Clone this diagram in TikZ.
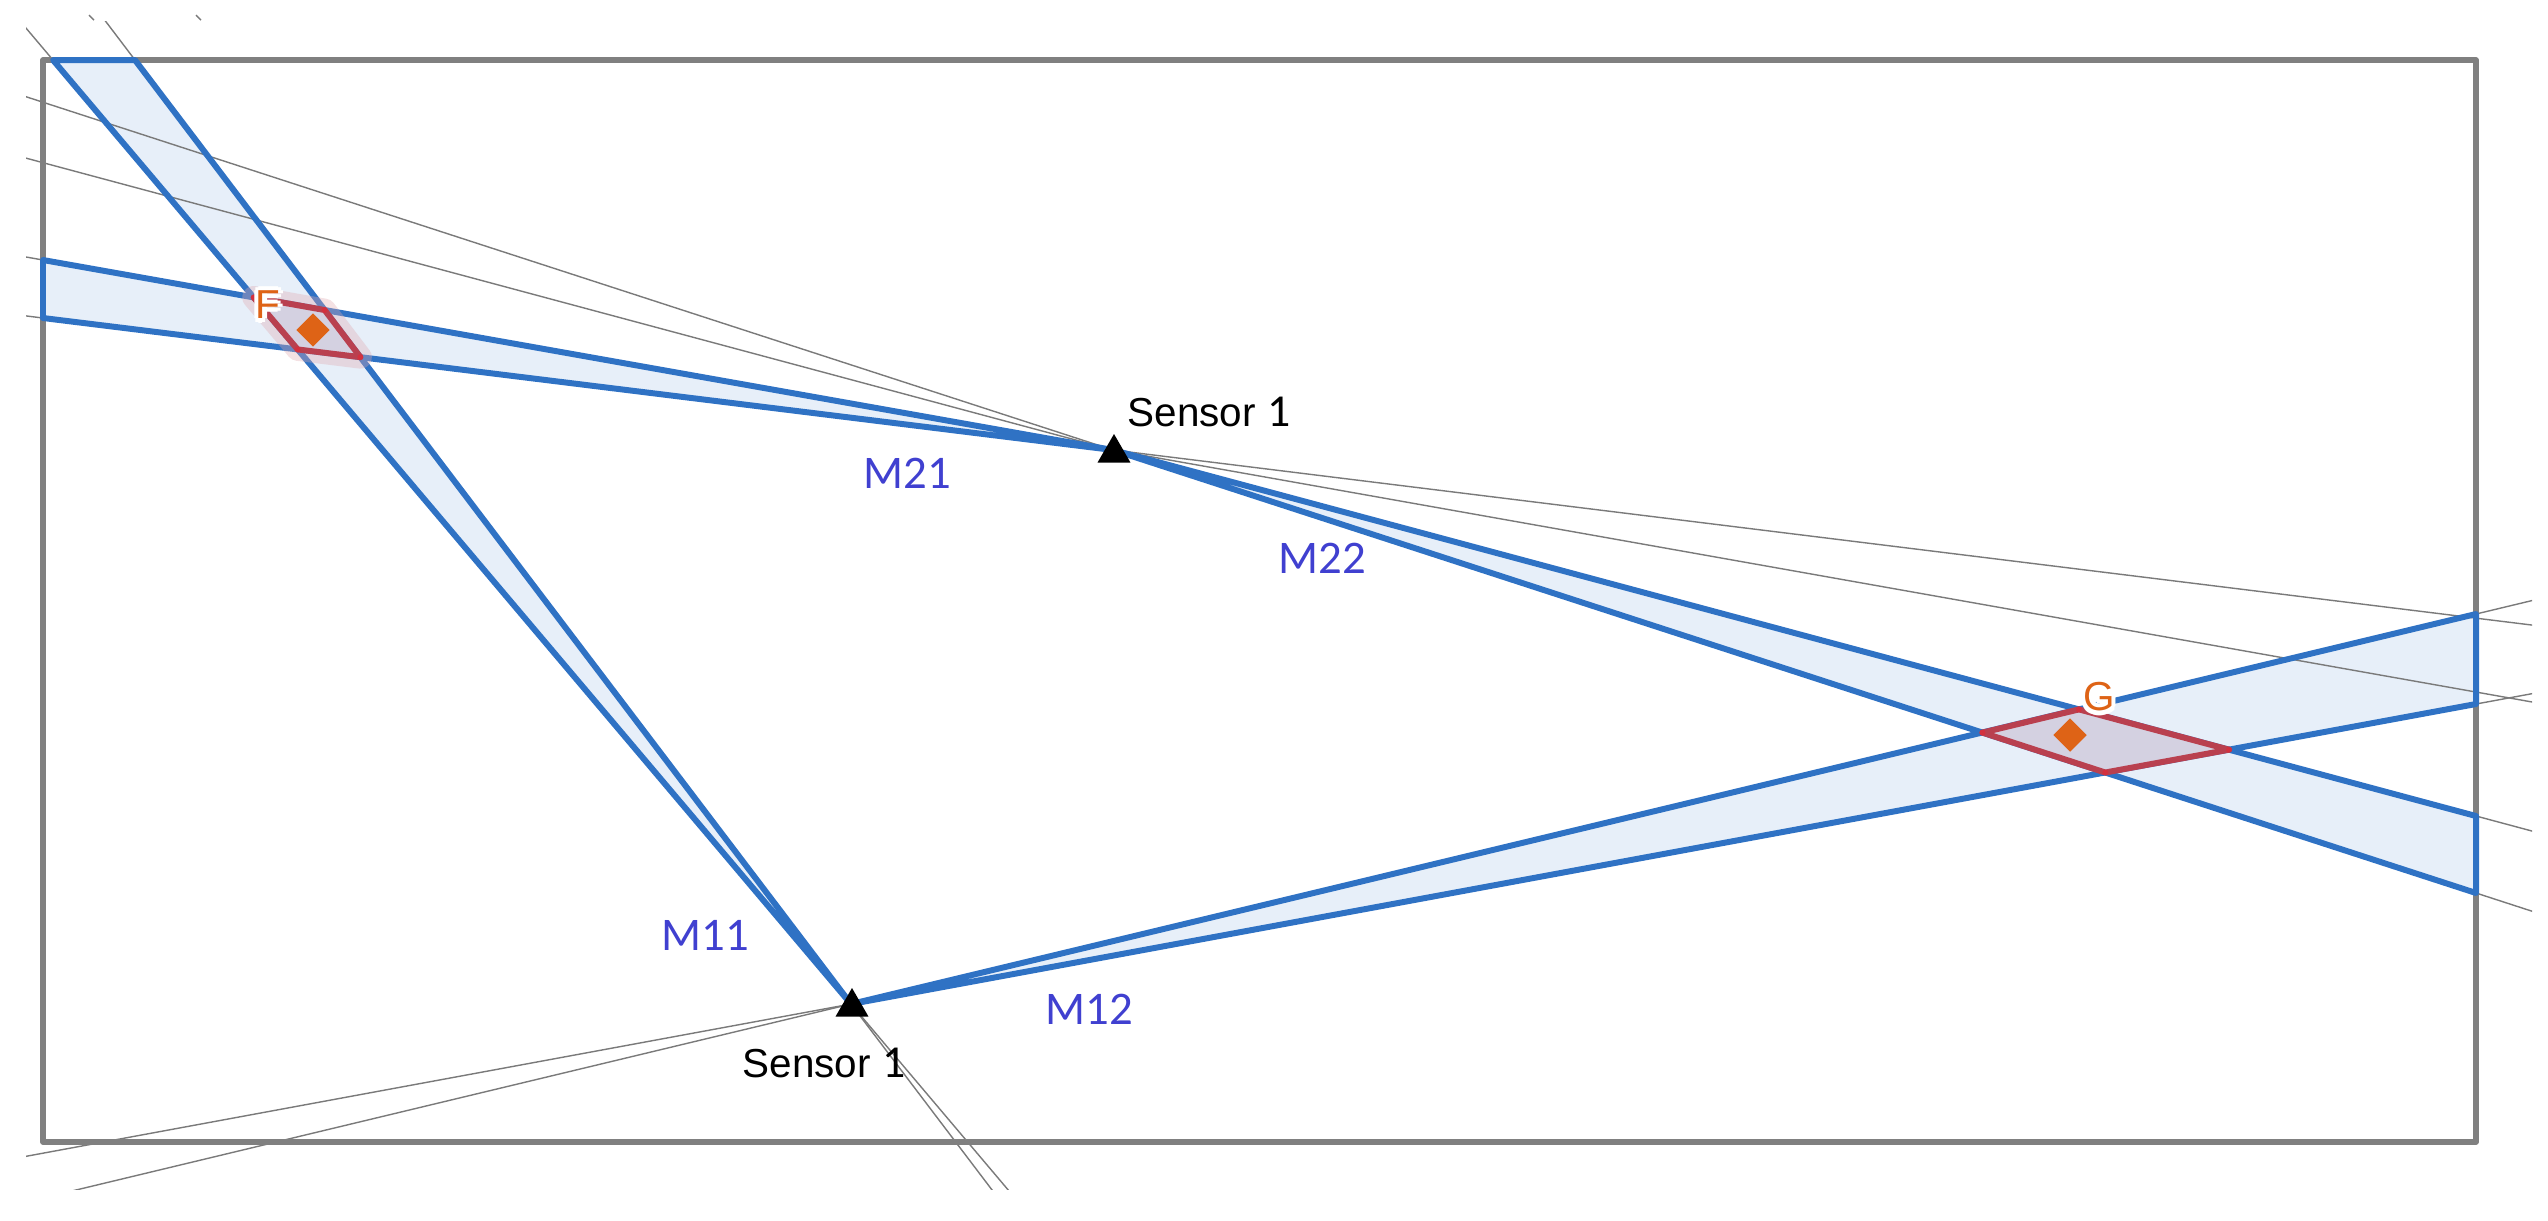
\documentclass[tikz,border=0pt]{standalone}
\usepackage{fontspec}
\setmainfont{Liberation Sans}
\newfontfamily\carl{Carlito}
\usetikzlibrary{calc,shapes.geometric}
\definecolor{frameg}{HTML}{808080}
\definecolor{bandline}{HTML}{2F72C4}
\definecolor{bandfillc}{HTML}{E7EFF9}
\definecolor{guideg}{HTML}{7A7A7A}
\definecolor{regline}{HTML}{B9404F}
\definecolor{regfill}{HTML}{D4D1E1}
\definecolor{regdot}{HTML}{D3303E}
\definecolor{orangec}{HTML}{DE6316}
\definecolor{mlabel}{HTML}{4040D0}
\newcommand\halotxt[1]{%
 \rlap{\color{white}\kern-1.3pt#1}%
 \rlap{\color{white}\kern1.3pt#1}%
 \rlap{\color{white}\raisebox{1.3pt}{#1}}%
 \rlap{\color{white}\raisebox{-1.3pt}{#1}}%
 \rlap{\color{white}\kern-0.92pt\raisebox{0.92pt}{#1}}%
 \rlap{\color{white}\kern0.92pt\raisebox{0.92pt}{#1}}%
 \rlap{\color{white}\kern-0.92pt\raisebox{-0.92pt}{#1}}%
 \rlap{\color{white}\kern0.92pt\raisebox{-0.92pt}{#1}}%
 #1}
\tikzset{
 frame/.style={draw=frameg, line width=1.45pt, line join=round, line cap=round},
 bandfill/.style={fill=bandfillc},
 bandedge/.style={draw=bandline, line width=1.7pt, line join=round},
 guide/.style={draw=guideg, line width=0.4pt},
 region/.style={draw=regline, fill=regfill, line width=1.7pt, line join=round},
 regionhalo/.style={draw=regline!45, opacity=0.35, line width=6.5pt, line join=round},
 regdotst/.style={fill=regdot},
 marker/.style={shape=diamond, fill=orangec, inner sep=0pt, minimum width=0.34cm, minimum height=0.34cm},
 sensor/.style={shape=regular polygon, regular polygon sides=3, fill=black, inner sep=0pt, minimum size=0.38cm},
 senslabel/.style={inner sep=0pt, anchor=base west, font=\fontsize{11.5}{13}\selectfont, text=black},
 mlab/.style={inner sep=0pt, font=\carl\fontsize{13.3}{15}\selectfont, text=mlabel},
 ptlab/.style={inner sep=0pt, font=\fontsize{11.5}{13}\selectfont, text=orangec},
}
\begin{document}
\begin{tikzpicture}[x=0.01cm,y=-0.01cm]
\useasboundingbox (0,0) rectangle (2548,1220);
% sensor positions and band end points
\coordinate (S1) at (851,1004);
\coordinate (S2) at (1113,450);
\coordinate (A11) at (53,60);
\coordinate (B11) at (135,60);
\coordinate (A21) at (43,260);
\coordinate (B21) at (43,318);
\coordinate (A12) at (2476,614);
\coordinate (B12) at (2476,704);
\coordinate (A22) at (2476,816);
\coordinate (B22) at (2476,893);
% band fills
\fill[bandfill] (S1) -- (A11) -- (B11) -- cycle;
\fill[bandfill] (S2) -- (A21) -- (B21) -- cycle;
\fill[bandfill] (S1) -- (A12) -- (B12) -- cycle;
\fill[bandfill] (S2) -- (A22) -- (B22) -- cycle;
% guide lines
\begin{scope}
\clip (26,21) rectangle (2532,1189);
\foreach \s/\p in {S1/A11,S1/B11,S2/A21,S2/B21,S1/A12,S1/B12,S2/A22,S2/B22}
  \draw[guide] ($(\s)!-4!(\p)$) -- ($(\s)!4!(\p)$);
\end{scope}
\draw[guide] (89,15) -- (94,20);
\draw[guide] (196,15) -- (201,20);
% frame
\draw[frame] (43,60) rectangle (2476,1142);
% band edges
\draw[bandedge] (S1) -- (A11) -- (B11) -- cycle;
\draw[bandedge] (S2) -- (A21) -- (B21) -- cycle;
\draw[bandedge] (S1) -- (A12) -- (B12) -- cycle;
\draw[bandedge] (S2) -- (A22) -- (B22) -- cycle;
% region F
\coordinate (F1) at (intersection of S1--A11 and S2--A21);
\coordinate (F2) at (intersection of S1--B11 and S2--A21);
\coordinate (F3) at (intersection of S1--B11 and S2--B21);
\coordinate (F4) at (intersection of S1--A11 and S2--B21);
\draw[regionhalo] (F1) -- (F2) -- (F3) -- (F4) -- cycle;
\draw[region] (F1) -- (F2) -- (F3) -- (F4) -- cycle;
% region G
\coordinate (G1) at (intersection of S1--A12 and S2--B22);
\coordinate (G2) at (intersection of S1--A12 and S2--A22);
\coordinate (G3) at (intersection of S1--B12 and S2--A22);
\coordinate (G4) at (intersection of S1--B12 and S2--B22);
\draw[region] (G1) -- (G2) -- (G3) -- (G4) -- cycle;
\foreach \v in {F1,F2,F3,F4,G1,G2,G3,G4}
  \fill[regdotst] (\v) circle[radius=3];
% markers
\node[marker] (mF) at (313,330) {};
\node[marker] (mG) at (2070,735) {};
\node[ptlab] (labF) at (268,305) {\halotxt{F}};
\node[ptlab] (labG) at (2099,697) {\halotxt{G}};
% sensors
\node[sensor] (sens2) at (1114,453) {};
\node[sensor] (sens1) at (852,1007) {};
\node[senslabel] (ls2) at (1127,426) {Sensor {\carl\fontsize{13}{15}\selectfont 1}};
\node[senslabel] (ls1) at (742,1077) {Sensor {\carl\fontsize{13}{15}\selectfont 1}};
% band labels
\node[mlab] (m21) at (907,473) {M21};
\node[mlab] (m22) at (1322,558) {M22};
\node[mlab] (m11) at (705,935) {M11};
\node[mlab] (m12) at (1089,1009) {M12};
\end{tikzpicture}
\end{document}
